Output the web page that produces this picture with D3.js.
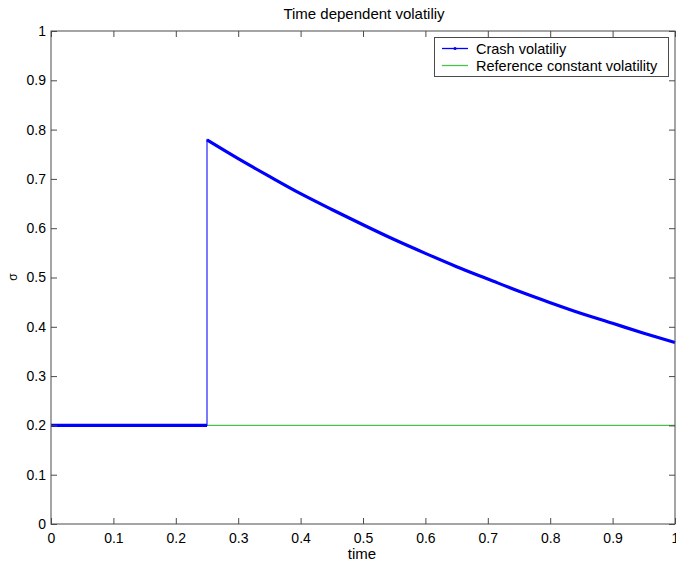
<!DOCTYPE html>
<html>
<head>
<meta charset="utf-8">
<script src="https://cdn.jsdelivr.net/npm/d3@7"></script>
<style>
  html, body { margin: 0; padding: 0; background: #fff; }
  svg { display: block; font-family: "Liberation Sans", Arial, Helvetica, sans-serif; }
</style>
</head>
<body>
<svg id="chart" width="676" height="563"></svg>
<script>
// Crash volatility: flat before the crash, jump at t = 0.25, then decay
const crashTimeBefore = [0, 0.05, 0.1, 0.15, 0.2, 0.25];
const crashSigmaBefore = [0.2, 0.2, 0.2, 0.2, 0.2, 0.2];
const crashTimeAfter = [0.25, 0.3, 0.35, 0.4, 0.45, 0.5, 0.55, 0.6, 0.65, 0.7, 0.75, 0.8, 0.85, 0.9, 0.95, 1.0];
const crashSigmaAfter = [0.779, 0.741, 0.705, 0.670, 0.638, 0.607, 0.577, 0.549, 0.522, 0.497, 0.472, 0.449, 0.427, 0.407, 0.387, 0.368];
// Reference constant volatility
const refTime = [0, 1];
const refSigma = [0.2, 0.2];
const xTicks = [0, 0.1, 0.2, 0.3, 0.4, 0.5, 0.6, 0.7, 0.8, 0.9, 1];
const yTicks = [0, 0.1, 0.2, 0.3, 0.4, 0.5, 0.6, 0.7, 0.8, 0.9, 1];
const seriesNames = ["Crash volatiliy", "Reference constant volatility"];

const svg = d3.select("#chart");
const m = { left: 51, right: 675, top: 31, bottom: 524 };
const x = d3.scaleLinear().domain([0, 1]).range([m.left, m.right]);
const y = d3.scaleLinear().domain([0, 1]).range([m.bottom, m.top]);
const axisColor = "#4a4a4a";
const blue = "#0000ff";
const green = "#4cc04c";

const zip = (xs, ys) => xs.map((t, i) => [t, ys[i]]);
const line = d3.line().x(d => x(d[0])).y(d => y(d[1]));

// Reference line
svg.append("path").attr("d", line(zip(refTime, refSigma)))
  .attr("fill", "none").attr("stroke", green).attr("stroke-width", 1.3);

// Crash series: thin connecting line through all samples
const before = zip(crashTimeBefore, crashSigmaBefore);
const after = zip(crashTimeAfter, crashSigmaAfter);
svg.append("path").attr("d", line(before.concat(after)))
  .attr("fill", "none").attr("stroke", blue).attr("stroke-width", 1.3).attr("stroke-opacity", 0.8);
// dense sample markers read as a heavy band along the sampled pieces
const curve = d3.line().x(d => x(d[0])).y(d => y(d[1])).curve(d3.curveMonotoneX);
[before, after].forEach(seg => {
  svg.append("path").attr("d", curve(seg))
    .attr("fill", "none").attr("stroke", blue).attr("stroke-width", 3.2)
    .attr("stroke-linecap", "butt");
});

// Axes box with inward ticks on all sides
const gAx = svg.append("g");
gAx.append("rect").attr("x", m.left).attr("y", m.top)
  .attr("width", m.right - m.left).attr("height", m.bottom - m.top)
  .attr("fill", "none").attr("stroke", axisColor).attr("stroke-width", 1);

const tickLen = 6;
const xAxisB = d3.axisBottom(x).tickValues(xTicks).tickSizeInner(-tickLen).tickSizeOuter(0).tickPadding(9).tickFormat(d3.format("~g"));
const xAxisT = d3.axisTop(x).tickValues(xTicks).tickSizeInner(-tickLen).tickSizeOuter(0).tickFormat("");
const yAxisL = d3.axisLeft(y).tickValues(yTicks).tickSizeInner(-tickLen).tickSizeOuter(0).tickPadding(5).tickFormat(d3.format("~g"));
const yAxisR = d3.axisRight(y).tickValues(yTicks).tickSizeInner(-tickLen).tickSizeOuter(0).tickFormat("");

function style(g) {
  g.select(".domain").remove();
  g.selectAll(".tick line").attr("stroke", axisColor);
  g.selectAll(".tick text").attr("fill", "#000").style("font-size", "14px")
    .style("font-family", "'Liberation Sans', Arial, Helvetica, sans-serif");
}
gAx.append("g").attr("transform", `translate(0,${m.bottom})`).call(xAxisB).call(style);
gAx.append("g").attr("transform", `translate(0,${m.top})`).call(xAxisT).call(style);
gAx.append("g").attr("transform", `translate(${m.left},0)`).call(yAxisL).call(style);
gAx.append("g").attr("transform", `translate(${m.right},0)`).call(yAxisR).call(style);

// Titles
svg.append("text").attr("x", 364).attr("y", 19).attr("text-anchor", "middle")
  .style("font-size", "15px").text("Time dependent volatiliy");
svg.append("text").attr("x", 362).attr("y", 559).attr("text-anchor", "middle")
  .style("font-size", "15px").text("time");
svg.append("text").attr("transform", "translate(17,277) rotate(-90)")
  .attr("text-anchor", "middle").style("font-size", "12px").text("σ");

// Legend
const lg = svg.append("g");
lg.append("rect").attr("x", 434.5).attr("y", 37.5).attr("width", 234).attr("height", 39)
  .attr("fill", "#fff").attr("stroke", axisColor).attr("stroke-width", 1);
const legendColors = [blue, green];
seriesNames.forEach((name, i) => {
  const ly = 48.5 + i * 17;
  lg.append("line").attr("x1", 442).attr("x2", 468).attr("y1", ly).attr("y2", ly)
    .attr("stroke", legendColors[i]).attr("stroke-width", 1.3);
  if (i === 0) {
    lg.append("circle").attr("cx", 455).attr("cy", ly).attr("r", 1.6).attr("fill", blue);
  }
  lg.append("text").attr("x", 476).attr("y", ly + 5).style("font-size", "14.5px").text(name);
});
</script>
</body>
</html>
